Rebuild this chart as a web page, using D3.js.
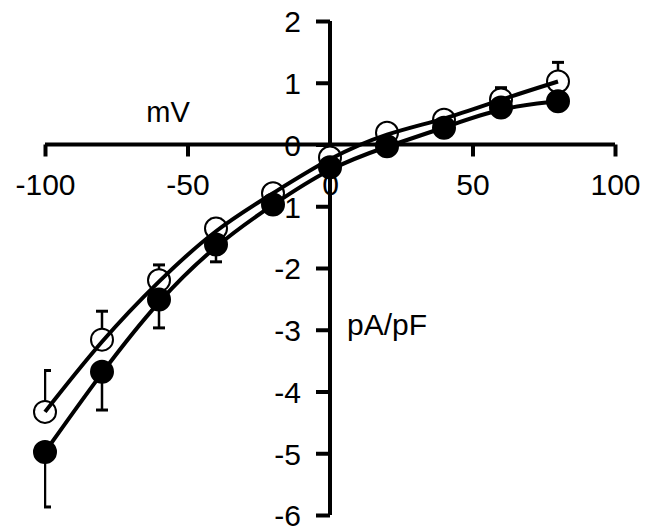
<!DOCTYPE html>
<html><head><meta charset="utf-8">
<script src="https://cdn.jsdelivr.net/npm/d3@7"></script>
<style>body{margin:0;background:#fff}svg{display:block}text{font-family:Arial,"Liberation Sans",sans-serif}</style>
</head><body>
<script>
const voltages = [-100, -80, -60, -40, -20, 0, 20, 40, 60, 80];
const openMean = [-4.33, -3.16, -2.2, -1.36, -0.79, -0.21, 0.19, 0.40, 0.73, 1.02];
const openErr  = [0.67, 0.46, 0.25, 0.15, 0.08, 0.06, 0.05, 0.06, 0.19, 0.31];
const filledMean = [-4.98, -3.68, -2.51, -1.62, -0.97, -0.37, -0.03, 0.27, 0.60, 0.70];
const filledErr  = [0.89, 0.62, 0.46, 0.28, 0.10, 0.06, 0.05, 0.05, 0.05, 0.05];
const xTicks = [-100, -50, 0, 50, 100];
const yTicks = [2, 1, 0, -1, -2, -3, -4, -5, -6];

const W = 645, H = 527;
const fmt = d => String(d); // hyphen-minus as in reference
const svg = d3.select("body").append("svg").attr("width", W).attr("height", H);
const x = d3.scaleLinear().domain([-100, 100]).range([45, 615]);
const y = d3.scaleLinear().domain([-6, 2]).range([515, 21]);

svg.append("clipPath").attr("id", "clip").append("rect")
  .attr("x", x(-100) - 1).attr("y", 0).attr("width", W).attr("height", H);

// x axis at y=0
const xAxis = svg.append("g").attr("transform", `translate(0,${y(0)})`)
  .call(d3.axisBottom(x).tickValues(xTicks).tickSize(12).tickFormat(fmt));
xAxis.select(".domain").attr("d", `M${x(-100)},0H${x(100)}`).attr("stroke-width", 4);
xAxis.selectAll(".tick line").attr("stroke-width", 4);
xAxis.selectAll(".tick text").attr("font-size", 30).attr("y", 50).attr("dy", null).attr("fill", "#000");

// y axis at x=0
const yAxis = svg.append("g").attr("transform", `translate(${x(0)},0)`)
  .call(d3.axisLeft(y).tickValues(yTicks).tickSize(14).tickFormat(fmt));
yAxis.select(".domain").attr("d", `M0,${y(2)}V${y(-6)}`).attr("stroke-width", 4);
yAxis.selectAll(".tick line").attr("stroke-width", 4);
yAxis.selectAll(".tick text").attr("font-size", 30).attr("fill", "#000").attr("x", -29).attr("dy", "0.36em");
svg.selectAll(".domain, .tick line").attr("stroke", "#000");

svg.append("text").attr("x", 168).attr("y", 122).attr("font-size", 29).attr("text-anchor", "middle").text("mV");
svg.append("text").attr("x", 347).attr("y", 335).attr("font-size", 30).text("pA/pF");

const series = [
  {mean: openMean, err: openErr, dir: 1, fill: "#fff"},
  {mean: filledMean, err: filledErr, dir: -1, fill: "#000"}
];
const line = d3.line().x(d => x(d[0])).y(d => y(d[1])).curve(d3.curveBasis);

series.forEach(s => {
  const pts = voltages.map((v, i) => [v, s.mean[i], s.err[i]]);
  const eb = svg.append("g").attr("clip-path", "url(#clip)").attr("stroke", "#000").attr("stroke-width", 2.5);
  pts.forEach(p => {
    const yEnd = y(p[1] + s.dir * p[2]);
    eb.append("line").attr("x1", x(p[0])).attr("x2", x(p[0])).attr("y1", y(p[1])).attr("y2", yEnd);
    eb.append("line").attr("x1", x(p[0]) - 6).attr("x2", x(p[0]) + 6).attr("y1", yEnd).attr("y2", yEnd).attr("stroke-width", 3);
  });
});
series.forEach(s => {
  svg.append("g").selectAll("circle").data(voltages.map((v, i) => [v, s.mean[i]])).join("circle")
    .attr("cx", d => x(d[0])).attr("cy", d => y(d[1])).attr("r", 11)
    .attr("fill", s.fill).attr("stroke", "#000").attr("stroke-width", 2);
});
series.forEach(s => {
  const pts = voltages.map((v, i) => [v, s.mean[i]]);
  svg.append("path").datum(pts).attr("d", line).attr("fill", "none").attr("stroke", "#000").attr("stroke-width", 4);
});
</script>
</body></html>
